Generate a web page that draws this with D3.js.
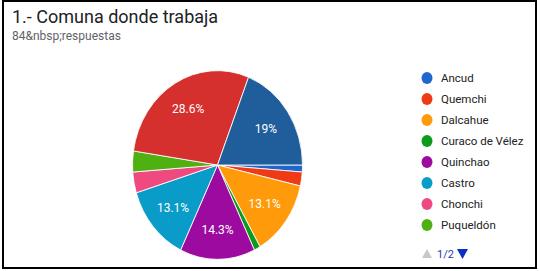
<!DOCTYPE html>
<html>
<head>
<meta charset="utf-8">
<script src="https://cdn.jsdelivr.net/npm/d3@7"></script>
<style>
  body { margin: 0; background: #fff; }
  svg { display: block; font-family: Roboto, Arial, sans-serif; }
</style>
</head>
<body>
<svg id="chart" width="540" height="271"></svg>
<script>
// comunas in form order (last two sit on legend page 2)
const comunas = ["Ancud", "Quemchi", "Dalcahue", "Curaco de Vélez", "Quinchao",
  "Castro", "Chonchi", "Puqueldón", "Queilén", "Quellón"];
const respuestas = [1, 2, 11, 1, 12, 11, 3, 3, 24, 16];
const colores = ["#1f66d1", "#ee3b16", "#ff9a0a", "#0e9a1c", "#9c0aa0",
  "#0a9cc9", "#ef4a80", "#4fb012", "#d6302e", "#1f5e9b"];
const legendPage = 8; // entries visible on page 1

const svg = d3.select("#chart");
const total = d3.sum(respuestas);

// frame
svg.append("rect")
  .attr("x", 3).attr("y", 1)
  .attr("width", 533).attr("height", 267)
  .attr("fill", "none").attr("stroke", "#000").attr("stroke-width", 2);

//----------------------------------//
// title
//----------------------------------//
svg.append("text")
  .attr("x", 12).attr("y", 23)
  .attr("font-size", 18).attr("fill", "#202124")
  .text("1.- Comuna donde trabaja");

svg.append("text")
  .attr("x", 12).attr("y", 40)
  .attr("font-size", 12).attr("fill", "#5f6368")
  .text(total + "&nbsp;respuestas");

//----------------------------------//
// pie (image is slightly stretched vertically)
//----------------------------------//
const cx = 217.5, cy = 165, R = 85, sy = 1.11;

const pie = d3.pie()
  .sort(null)
  .startAngle(Math.PI / 2)
  .endAngle(Math.PI / 2 + 2 * Math.PI);

const arc = d3.arc().innerRadius(0).outerRadius(R);
const labelArc = d3.arc().innerRadius(R * 0.69).outerRadius(R * 0.69);

const arcs = pie(respuestas);

const g = svg.append("g")
  .attr("transform", `translate(${cx},${cy}) scale(1,${sy})`);

g.selectAll("path")
  .data(arcs)
  .join("path")
  .attr("d", arc)
  .attr("fill", (d, i) => colores[i])
  .attr("stroke", "#fff")
  .attr("stroke-width", 0.8);

svg.selectAll("text.pct")
  .data(arcs.filter(d => d.value / total >= 0.05))
  .join("text")
  .attr("class", "pct")
  .attr("x", d => cx + labelArc.centroid(d)[0])
  .attr("y", d => cy + labelArc.centroid(d)[1] * sy)
  .attr("dy", "0.35em")
  .attr("text-anchor", "middle")
  .attr("font-size", 12)
  .attr("fill", "#fff")
  .text(d => +(d.value / total * 100).toFixed(1) + "%");

//----------------------------------//
// legend
//----------------------------------//
const legendY = d3.scalePoint()
  .domain(comunas.slice(0, legendPage))
  .range([78, 225]);

const legend = svg.append("g");
const item = legend.selectAll("g")
  .data(comunas.slice(0, legendPage))
  .join("g")
  .attr("transform", d => `translate(427,${legendY(d)})`);

item.append("ellipse")
  .attr("rx", 5.5).attr("ry", 6)
  .attr("fill", (d, i) => colores[i]);

item.append("text")
  .attr("x", 14).attr("dy", "0.35em")
  .attr("font-size", 11.5).attr("fill", "#222")
  .text(d => d);

// pager
const pager = svg.append("g").attr("transform", "translate(0,254)");
pager.append("path")
  .attr("d", "M422,4 L432,4 L427,-5 Z")
  .attr("fill", "#c8c8c8");
pager.append("text")
  .attr("x", 437).attr("dy", "0.35em")
  .attr("font-size", 11).attr("fill", "#1a3fa8")
  .text("1/2");
pager.append("path")
  .attr("d", "M457,-5 L468,-5 L462.5,5 Z")
  .attr("fill", "#0b2fc4");
</script>
</body>
</html>
